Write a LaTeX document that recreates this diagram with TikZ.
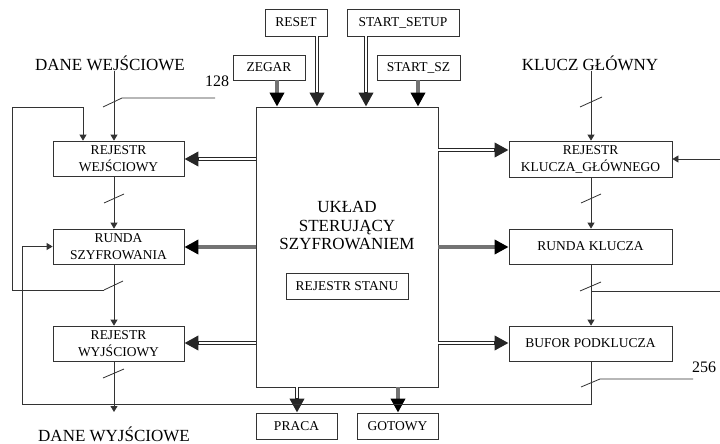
\documentclass[tikz,border=0pt]{standalone}
\usepackage{fontspec}
\setmainfont{Liberation Serif}
\usetikzlibrary{arrows.meta}
\begin{document}
\begin{tikzpicture}[x=1pt,y=-1pt,
  box/.style={draw=black!80, line width=0.8pt, fill=white, inner sep=0pt, font=\fontsize{13.5}{17}\selectfont, align=center},
  big/.style={inner sep=0pt, font=\fontsize{17}{18.5}\selectfont, align=center},
  num/.style={inner sep=0pt, font=\fontsize{16}{18}\selectfont},
  wire/.style={draw=black!80, line width=0.8pt},
  sarr/.style={wire, -{Triangle[length=6pt,width=7pt]}},
  dbl/.style={draw=black!85, line width=4pt, -{Triangle[length=14pt,width=14pt]},
    postaction={draw=white, line width=2.2pt, -, shorten >=14.5pt}},
  gry/.style={draw=black!55, line width=3.6pt, -{Triangle[length=14pt,width=14pt,black]}},
  slash/.style={draw=black!80, line width=0.8pt}]
\useasboundingbox (0,0) rectangle (720,444);
\fill[white] (0,0) rectangle (720,444);

% coordinates of bus lines
\coordinate (lx) at (114,0);
\coordinate (rx) at (591,0);

% central block
\node[box, minimum width=182pt, minimum height=280pt] (ctl) at (347,247) {};
\node[big] (ctltxt) at (347,226) {UKŁAD\\STERUJĄCY\\SZYFROWANIEM};
\node[box, minimum width=122pt, minimum height=26pt] (stan) at (347,286) {REJESTR STANU};

% top inputs
\node[box, minimum width=62pt, minimum height=27pt] (rst) at (296,22.5) {RESET};
\node[box, minimum width=112pt, minimum height=27pt] (sset) at (403,22.5) {START\_SETUP};
\node[box, minimum width=72pt, minimum height=25pt] (zeg) at (269,67.5) {ZEGAR};
\node[box, minimum width=83pt, minimum height=25pt] (ssz) at (418.5,67.5) {START\_SZ};

% bottom outputs
\node[box, minimum width=81pt, minimum height=26pt] (praca) at (296.5,426) {PRACA};
\node[box, minimum width=81pt, minimum height=26pt] (got) at (397.5,426) {GOTOWY};

% left column
\node[box, minimum width=131pt, minimum height=35pt] (rw) at (118.5,158.5) {REJESTR\\WEJŚCIOWY};
\node[box, minimum width=131pt, minimum height=35pt] (rs) at (118.5,246.5) {RUNDA\\SZYFROWANIA};
\node[box, minimum width=131pt, minimum height=35pt] (ry) at (118.5,343.5) {REJESTR\\WYJŚCIOWY};

% right column
\node[box, minimum width=163pt, minimum height=36pt] (rk) at (590.5,159) {REJESTR\\KLUCZA\_GŁÓWNEGO};
\node[box, minimum width=163pt, minimum height=35pt] (rkl) at (590.5,246.5) {RUNDA KLUCZA};
\node[box, minimum width=163pt, minimum height=35pt] (bp) at (590.5,343.5) {BUFOR PODKLUCZA};

% free texts
\node[big] (dw) at (110,63) {DANE WEJŚCIOWE};
\node[big] (dwy) at (114,434) {DANE WYJŚCIOWE};
\node[big] (kg) at (590,63) {KLUCZ GŁÓWNY};
\node[num] (n128) at (217,81) {128};
\node[num] (n256) at (704,367) {256};

% helper coordinates
\coordinate (lloopA) at (12,107);
\coordinate (lloopB) at (83,107);
\coordinate (bloopA) at (591,404);
\coordinate (bloopB) at (22,404);
\coordinate (bottomend) at (114,412);
\coordinate (redgeA) at (720,159);
\coordinate (redgeB) at (720,291);
\coordinate (lsA) at (104,290);

% top arrows
\draw[gry] (zeg.south -| 277,0) -- (ctl.north -| 277,0);
\draw[dbl] (rst.south -| 317,0) -- (ctl.north -| 317,0);
\draw[dbl] (sset.south -| 366,0) -- (ctl.north -| 366,0);
\draw[gry] (ssz.south -| 418,0) -- (ctl.north -| 418,0);

% bottom arrows
\draw[dbl] (ctl.south -| 297,0) -- (praca.north -| 297,0);
\draw[gry] (ctl.south -| 398,0) -- (got.north -| 398,0);

% left arrows
\draw[dbl] (ctl.west |- 0,159) -- (rw.east |- 0,159);
\draw[gry] (ctl.west |- 0,247) -- (rs.east |- 0,247);
\draw[dbl] (ctl.west |- 0,343) -- (ry.east |- 0,343);

% right arrows
\draw[dbl] (ctl.east |- 0,150) -- (rk.west |- 0,150);
\draw[gry] (ctl.east |- 0,247) -- (rkl.west |- 0,247);
\draw[dbl] (ctl.east |- 0,343) -- (bp.west |- 0,343);

% left data path
\draw[sarr] (dw.south -| lx) -- (rw.north -| lx);
\draw[sarr] (rw.south -| lx) -- (rs.north -| lx);
\draw[sarr] (rs.south -| lx) -- (ry.north -| lx);
\draw[sarr] (ry.south -| lx) -- (bottomend);
\draw[sarr] (lsA) -- (lsA -| lloopA) -- (lloopA) -- (lloopB) -- (rw.north -| lloopB);
\draw[sarr] (bp.south -| rx) -- (bloopA) -- (bloopB) -- (bloopB |- rs) -- (rs.west);

% right key path
\draw[sarr] (kg.south -| rx) -- (rk.north -| rx);
\draw[sarr] (rk.south -| rx) -- (rkl.north -| rx);
\draw[sarr] (rkl.south -| rx) -- (bp.north -| rx);
\draw[wire] (rx |- redgeB) -- (redgeB);
\draw[sarr] (redgeA) -- (rk.east |- redgeA);

% bus width slashes
\draw[slash] (103,107) -- (122,98) -- (215,98);
\draw[slash] (104,203) -- (124,194);
\draw[slash] (lsA) -- (123,281);
\draw[slash] (103,378) -- (124,369);
\draw[slash] (580,107) -- (602,97);
\draw[slash] (581,203) -- (601,194);
\draw[slash] (580,291) -- (601,282);
\draw[slash] (581,387) -- (600,379) -- (693,379);
\end{tikzpicture}
\end{document}
